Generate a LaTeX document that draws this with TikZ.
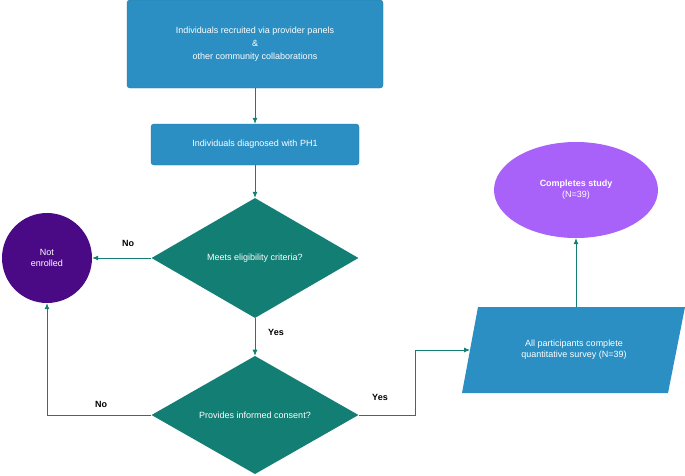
\documentclass[tikz,border=0pt]{standalone}
\usepackage{fontspec}
\setmainfont{Liberation Sans}
\usepackage{xcolor}
\usetikzlibrary{positioning, calc, shapes.geometric, arrows.meta}

\definecolor{boxblue}{HTML}{2B8FC3}
\definecolor{flowteal}{HTML}{137E74}
\definecolor{darkpurple}{HTML}{4A0A85}
\definecolor{lightpurple}{HTML}{A862FA}

\tikzset{
    stepbox/.style={draw=boxblue!80!black, fill=boxblue, text=white, rounded corners=3pt, align=center, font=\small},
    check/.style={diamond, fill=flowteal, text=white, inner sep=0pt, minimum width=207pt, minimum height=120pt, font=\small},
    flow/.style={flowteal, line width=0.8pt, -{Latex[length=6pt,width=5pt]}},
    answer/.style={font=\small\bfseries}
}

\begin{document}
\begin{tikzpicture}[x=1pt, y=-1pt]
        \useasboundingbox (0,0) rectangle (685,475);

        % boxes
        \node[stepbox, minimum width=256pt, minimum height=88pt] (recruit) at (255,44)
            {Individuals recruited via provider panels\\[2pt] \&\\[2pt] other community collaborations};
        \node[stepbox, minimum width=208pt, minimum height=41pt] (diag) at (255,144.5)
            {Individuals diagnosed with PH1};

        % decisions
        \node[check, minimum height=120pt] (elig) at (255,258) {Meets eligibility criteria?};
        \node[check, minimum height=114pt] (consent) at (255,415) {Provides informed consent?};

        % end points
        \node[circle, fill=darkpurple, text=white, minimum size=90pt, align=center, font=\small] (notenr) at (47,258) {Not\\enrolled};
        \node[ellipse, fill=lightpurple, text=white, minimum width=164pt, minimum height=96pt, align=center, font=\small] (done) at (576,190)
            {\textbf{Completes study}\\(N=39)};

        % survey
        \fill[boxblue] (478,307) -- (685,307) -- (668,393) -- (462,393) -- cycle;
        \node[text=white, align=center, font=\small] (survey) at (574,350)
            {All participants complete\\quantitative survey (N=39)};
        \coordinate (surveytop) at (576,307);
        \coordinate (surveyleft) at (470,350);

        % connectors
        \draw[flow] (recruit) -- (diag);
        \draw[flow] (diag) -- (elig);
        \draw[flow] (elig) -- (notenr);
        \draw[flow] (elig) -- (consent);
        \draw[flow] (consent.west) -| (notenr.south);
        \draw[flow] (consent.east) -- (415,415) |- (surveyleft);
        \draw[flow] (surveytop) -- (done);

        % labels
        \node[answer] (no1) at (128,243) {No};
        \node[answer] (yes1) at (276,332) {Yes};
        \node[answer] (no2) at (101,404) {No};
        \node[answer] (yes2) at (380,397) {Yes};
    \end{tikzpicture}
\end{document}
